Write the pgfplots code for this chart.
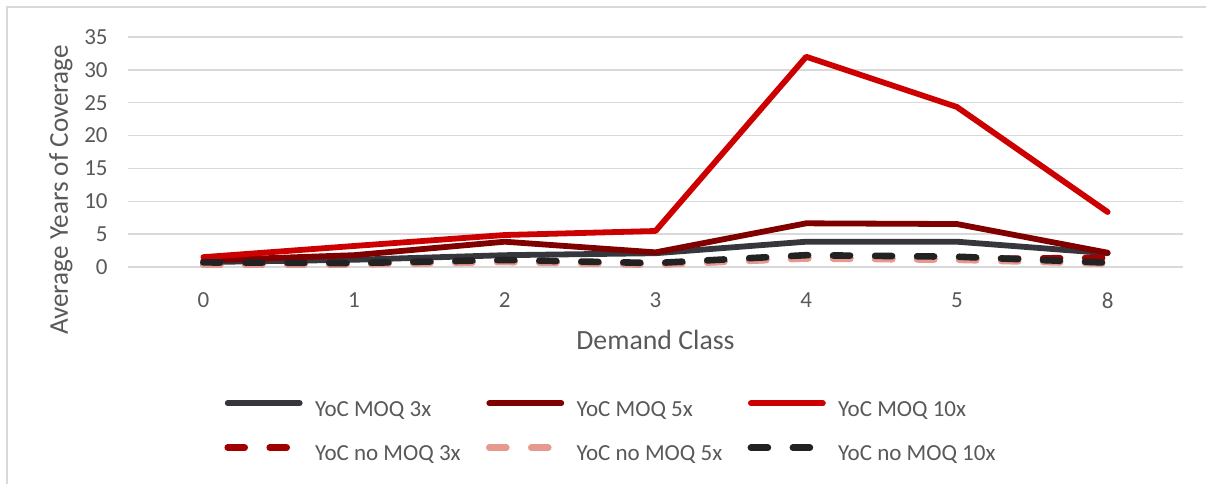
\documentclass[border=0pt]{standalone}
\usepackage{fontspec}
\setmainfont{Carlito}
\usepackage{pgfplots}
\pgfplotsset{compat=1.18}
\definecolor{txt}{HTML}{595959}
\definecolor{gridc}{HTML}{D9D9D9}
\definecolor{cA}{HTML}{36363D}
\definecolor{cB}{HTML}{800000}
\definecolor{cC}{HTML}{CC0000}
\definecolor{cD}{HTML}{A00000}
\definecolor{cE}{HTML}{E8998F}
\definecolor{cF}{HTML}{222222}
\begin{document}
\begin{tikzpicture}
\useasboundingbox (0pt,0pt) rectangle (603pt,-242pt);
\draw[gridc, line width=0.75pt] (3.5pt,-242pt) -- (3.5pt,-3.5pt) -- (603pt,-3.5pt);
\begin{axis}[
  at={(64pt,-133.5pt)}, anchor=south west,
  scale only axis, width=527.5pt, height=115pt,
  xmin=-0.5, xmax=6.5, ymin=0, ymax=35,
  xtick={0,1,2,3,4,5,6}, xticklabels={0,1,2,3,4,5,8},
  ytick={0,5,10,15,20,25,30,35},
  ymajorgrids, grid style={gridc, line width=0.75pt},
  axis line style={draw=none}, major tick style={draw=none},
  /pgf/number format/assume math mode=true,
  ticklabel style={font=\fontsize{11.5}{13.8}\selectfont, text=txt},
  yticklabel style={anchor=east, inner sep=0pt, xshift=-10pt},
  xticklabel style={anchor=north, inner sep=0pt, yshift=-12.5pt},
  xlabel={Demand Class}, ylabel={Average Years of Coverage},
  every axis x label/.style={at={(axis description cs:0.5,-0.317)}, anchor=center, font=\fontsize{13.9}{16}\selectfont, text=txt},
  every axis y label/.style={at={(axis description cs:-0.0635,0.335)}, rotate=90, anchor=center, font=\fontsize{13.6}{16}\selectfont, text=txt},
  legend columns=3,
  legend style={at={(axis description cs:0.0910,-0.578)}, anchor=north west, draw=none, inner sep=0pt, row sep=11.5pt, column sep=0pt,
    nodes={inner sep=0pt, text height=8pt, text depth=2.5pt, font=\fontsize{11.5}{13.8}\selectfont, text=txt}},
  legend image code/.code={\draw[#1] (0pt,3.8pt) -- (36pt,3.8pt);},
  solid/.style={line width=2.9pt, line cap=round, line join=round},
  dsh/.style={line width=3.3pt, line cap=round, line join=round, dash pattern=on 8.5pt off 12.5pt},
]
\addplot[cA, solid] coordinates {(0,0.75) (1,1.1) (2,1.8) (3,2.1) (4,3.85) (5,3.85) (6,2.1)};
\addlegendentry{\hspace{6pt}\makebox[85.5pt][l]{YoC MOQ 3x}}
\addplot[cB, solid] coordinates {(0,1.0) (1,1.8) (2,3.85) (3,2.23) (4,6.65) (5,6.54) (6,2.18)};
\addlegendentry{\hspace{6pt}\makebox[85.5pt][l]{YoC MOQ 5x}}
\addplot[cC, solid] coordinates {(0,1.5) (1,3.2) (2,4.87) (3,5.48) (4,32.0) (5,24.35) (6,8.37)};
\addlegendentry{\hspace{6pt}\makebox[85.5pt][l]{YoC MOQ 10x}}
\addplot[cD, dsh] coordinates {(0,0.4) (1,0.45) (2,0.85) (3,0.4) (4,1.4) (5,1.2) (6,1.4)};
\addlegendentry{\hspace{6pt}\makebox[85.5pt][l]{YoC no MOQ 3x}}
\addplot[cE, dsh] coordinates {(0,0.35) (1,0.4) (2,0.75) (3,0.35) (4,1.3) (5,1.1) (6,0.5)};
\addlegendentry{\hspace{6pt}\makebox[85.5pt][l]{YoC no MOQ 5x}}
\addplot[cF, dsh] coordinates {(0,0.7) (1,0.6) (2,1.07) (3,0.6) (4,1.8) (5,1.57) (6,0.66)};
\addlegendentry{\hspace{6pt}\makebox[85.5pt][l]{YoC no MOQ 10x}}
\end{axis}
\end{tikzpicture}
\end{document}
